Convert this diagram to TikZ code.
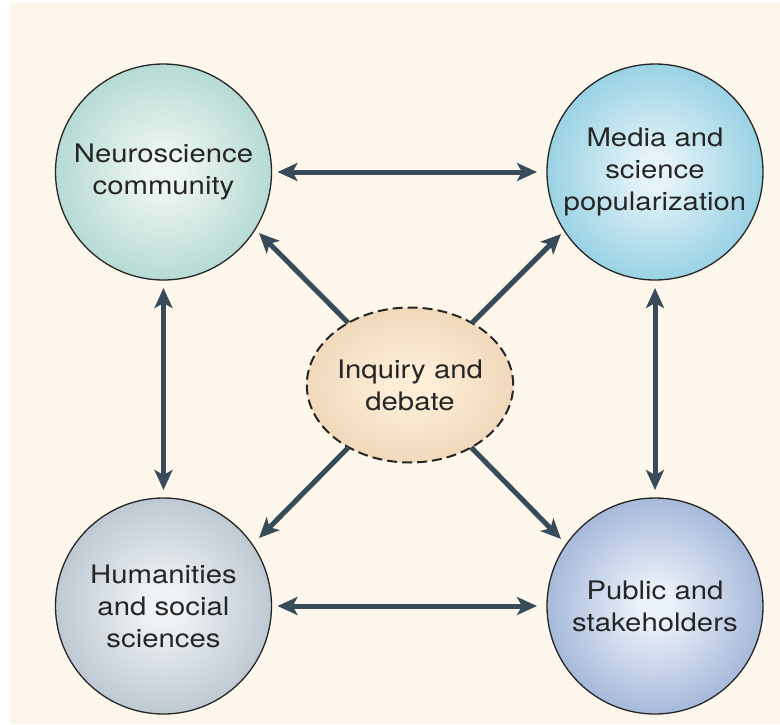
\documentclass[tikz,border=0pt]{standalone}
\usepackage{fontspec}
\setmainfont[FakeStretch=1.15]{TeX Gyre Heros}
\usetikzlibrary{arrows.meta,shapes.geometric}
\definecolor{cream}{HTML}{FDF6EA}
\definecolor{arrowc}{HTML}{384B5A}
\definecolor{textc}{HTML}{262626}
\definecolor{neuroin}{HTML}{EEF6F1}
\definecolor{neuroout}{HTML}{79BDB6}
\definecolor{mediain}{HTML}{E4F3F8}
\definecolor{mediaout}{HTML}{4AAFD0}
\definecolor{humin}{HTML}{F0F3F5}
\definecolor{humout}{HTML}{889DAE}
\definecolor{pubin}{HTML}{EAF1F9}
\definecolor{pubout}{HTML}{5F7EBB}
\definecolor{inqin}{HTML}{FCEDD7}
\definecolor{inqout}{HTML}{E2BE93}
\colorlet{neuromid}{neuroin!40!neuroout}
\colorlet{mediamid}{mediain!40!mediaout}
\colorlet{hummid}{humin!40!humout}
\colorlet{pubmid}{pubin!40!pubout}
\colorlet{inqmid}{inqin!45!inqout}
\pgfdeclareradialshading{neuroshade}{\pgfpoint{0bp}{0bp}}{color(0bp)=(neuroin); color(4bp)=(neuroin); color(30bp)=(neuromid); color(50bp)=(neuroout); color(100bp)=(neuroout)}
\pgfdeclareradialshading{mediashade}{\pgfpoint{0bp}{0bp}}{color(0bp)=(mediain); color(4bp)=(mediain); color(30bp)=(mediamid); color(50bp)=(mediaout); color(100bp)=(mediaout)}
\pgfdeclareradialshading{humshade}{\pgfpoint{0bp}{0bp}}{color(0bp)=(humin); color(4bp)=(humin); color(30bp)=(hummid); color(50bp)=(humout); color(100bp)=(humout)}
\pgfdeclareradialshading{pubshade}{\pgfpoint{0bp}{0bp}}{color(0bp)=(pubin); color(4bp)=(pubin); color(30bp)=(pubmid); color(50bp)=(pubout); color(100bp)=(pubout)}
\pgfdeclareradialshading{inqshade}{\pgfpoint{0bp}{0bp}}{color(0bp)=(inqin); color(6bp)=(inqin); color(30bp)=(inqmid); color(50bp)=(inqout); color(100bp)=(inqout)}
\tikzset{
  bubble/.style={circle, draw=black!85, line width=1.3pt, minimum size=216pt,
    inner sep=0pt, outer sep=0pt, align=center, text=textc,
    font=\fontsize{25.5}{32}\selectfont},
  hub/.style={ellipse, draw=black!85, line width=2pt, dash pattern=on 10pt off 5pt,
    minimum width=196pt, minimum height=155pt, inner sep=0pt, outer sep=0pt,
    align=center, text=textc, font=\fontsize{25.5}{32}\selectfont, shading=inqshade},
  tip/.tip={Stealth[length=20pt,width=18pt,inset=5pt]},
  link/.style={draw=arrowc, line width=5pt, -tip},
  duo/.style={draw=arrowc, line width=5pt, tip-tip}
}
\begin{document}
\begin{tikzpicture}[x=1pt,y=-1pt]
\useasboundingbox (0,0) rectangle (780,724);
\fill[white] (0,0) rectangle (780,724);
\fill[cream] (10,3) rectangle (780,724);

\node[bubble, shading=neuroshade] (neuro) at (163.5,172) {Neuroscience\\community};
\node[bubble, shading=mediashade] (media) at (655,172) {Media and\\science\\popularization};
\node[bubble, shading=humshade] (hum) at (163.5,606) {Humanities\\and social\\sciences};
\node[bubble, shading=pubshade] (pub) at (655,606) {Public and\\stakeholders};
\node[hub] (inq) at (410,385) {Inquiry and\\debate};

\coordinate (tlT) at (259,233);
\coordinate (trT) at (561,234);
\coordinate (blT) at (259,538);
\coordinate (brT) at (561,539);

\draw[duo, shorten <=6pt, shorten >=10pt] (neuro) -- (media);
\draw[duo, shorten <=6pt, shorten >=10pt] (hum) -- (pub);
\draw[duo, shorten <=8pt, shorten >=8pt] (neuro) -- (hum);
\draw[duo, shorten <=8pt, shorten >=8pt] (media) -- (pub);

\draw[link] (inq) -- (tlT);
\draw[link] (inq) -- (trT);
\draw[link] (inq) -- (blT);
\draw[link] (inq) -- (brT);
\end{tikzpicture}
\end{document}
